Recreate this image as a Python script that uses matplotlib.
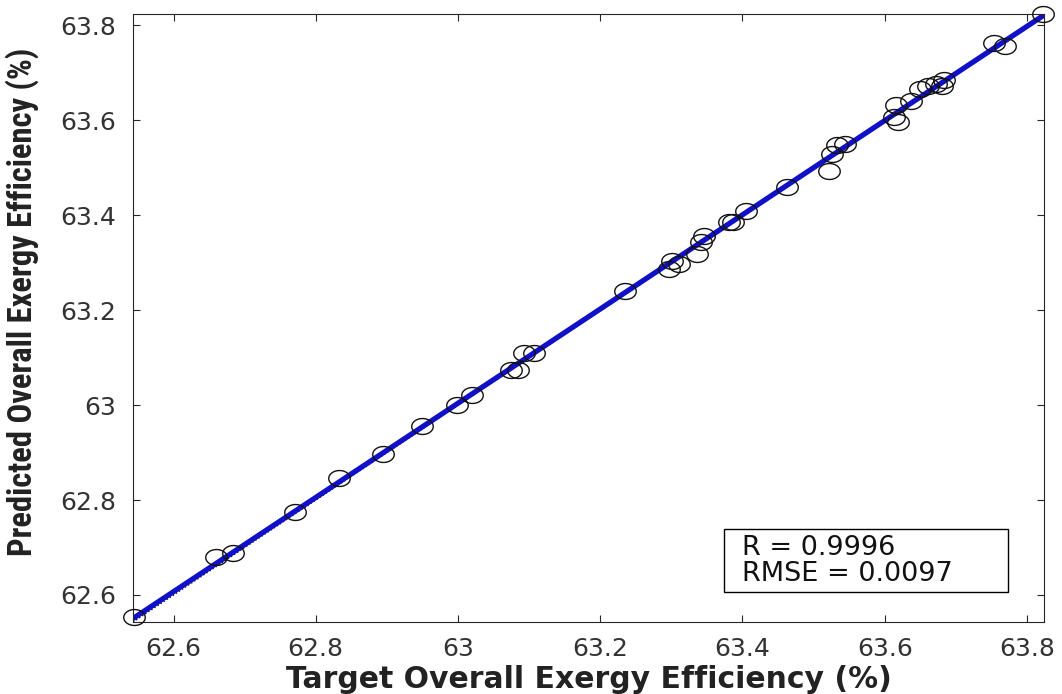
import numpy as np
import matplotlib.pyplot as plt
from matplotlib import font_manager
from matplotlib.patches import Rectangle
from matplotlib.path import Path

# target vs predicted overall exergy efficiency (%)
target = [62.545, 62.660, 62.683, 62.771, 62.833, 62.895, 62.950, 62.999, 63.020,
          63.075, 63.085, 63.093, 63.107, 63.235, 63.297, 63.301, 63.311, 63.336,
          63.342, 63.346, 63.381, 63.386, 63.405, 63.463, 63.521, 63.526, 63.533,
          63.544, 63.613, 63.619, 63.616, 63.637, 63.650, 63.661, 63.672, 63.681,
          63.684, 63.754, 63.769, 63.823]
predicted = [62.553, 62.680, 62.689, 62.775, 62.847, 62.898, 62.956, 63.001, 63.022,
             63.073, 63.075, 63.109, 63.109, 63.240, 63.286, 63.303, 63.297, 63.318,
             63.343, 63.356, 63.386, 63.386, 63.409, 63.460, 63.493, 63.529, 63.548,
             63.550, 63.607, 63.597, 63.633, 63.641, 63.666, 63.673, 63.677, 63.673,
             63.686, 63.762, 63.757, 63.823]
ticks = [62.6, 62.8, 63.0, 63.2, 63.4, 63.6, 63.8]
tick_labels = ['62.6', '62.8', '63', '63.2', '63.4', '63.6', '63.8']
stats_text = 'R = 0.9996\nRMSE = 0.0097'

# look for a narrow face for the rotated y label
names = {f.name for f in font_manager.fontManager.ttflist}
narrow = None
for cand in ['Liberation Sans Narrow', 'Arial Narrow', 'Roboto Condensed', 'Open Sans Condensed']:
    if cand in names:
        narrow = cand
        break
plt.rcParams['font.family'] = ['DejaVu Sans']

t = np.array(target)
p = np.array(predicted)

# the source image is a bit stretched sideways, so the circles look like ellipses
th = np.linspace(0, 2 * np.pi, 60)
ellipse = Path(np.column_stack([np.cos(th), 0.74 * np.sin(th)]))

fig = plt.figure(figsize=(10.62, 6.94), dpi=100)
ax = fig.add_axes([0.1252, 0.1037, 0.8579, 0.8761])

lo, hi = 62.543, 63.824
ax.plot([lo, hi], [lo, hi], ':', color='black', lw=1, zorder=1)
a, b = np.polyfit(t, p, 1)
xs = np.array([t.min(), t.max()])
ax.plot(xs, a * xs + b, color='#1010c8', lw=3.8, zorder=2)
ax.plot(t, p, linestyle='none', marker=ellipse, mfc='none', mec='#111111', ms=15.5,
        mew=1.0, zorder=3, clip_on=False)

ax.set_xlim(lo, hi)
ax.set_ylim(lo, hi)
ax.set_xticks(ticks)
ax.set_xticklabels(tick_labels)
ax.set_yticks(ticks)
ax.set_yticklabels(tick_labels)
ax.tick_params(direction='in', top=True, right=True, length=5, width=0.8,
               color='#262626', labelcolor='#333333', labelsize=18)
ax.tick_params(axis='x', pad=11)
ax.tick_params(axis='y', pad=12)
for s in ax.spines.values():
    s.set_color('#262626')
    s.set_linewidth(0.8)

ax.set_xlabel('Target Overall Exergy Efficiency (%)', fontsize=21.5, fontweight='bold',
              color='#222222', labelpad=3)
if narrow:
    ax.set_ylabel('Predicted Overall Exergy Efficiency (%)', fontsize=23.5, fontweight='bold',
                  family=[narrow, 'DejaVu Sans'], color='#222222')
else:
    ax.set_ylabel('Predicted Overall Exergy Efficiency (%)', fontsize=19.5, fontweight='bold',
                  family=['Liberation Sans', 'DejaVu Sans'], color='#222222')
ax.yaxis.set_label_coords(-0.103, 0.526)

ax.add_patch(Rectangle((0.649, 0.049), 0.311, 0.104, transform=ax.transAxes,
                       fill=False, ec='black', lw=1, zorder=5))
ax.text(0.668, 0.101, stats_text, transform=ax.transAxes, fontsize=19.5,
        va='center', ha='left', color='#111111', linespacing=1.0, zorder=6)

fig.savefig('out.png', dpi=100)
